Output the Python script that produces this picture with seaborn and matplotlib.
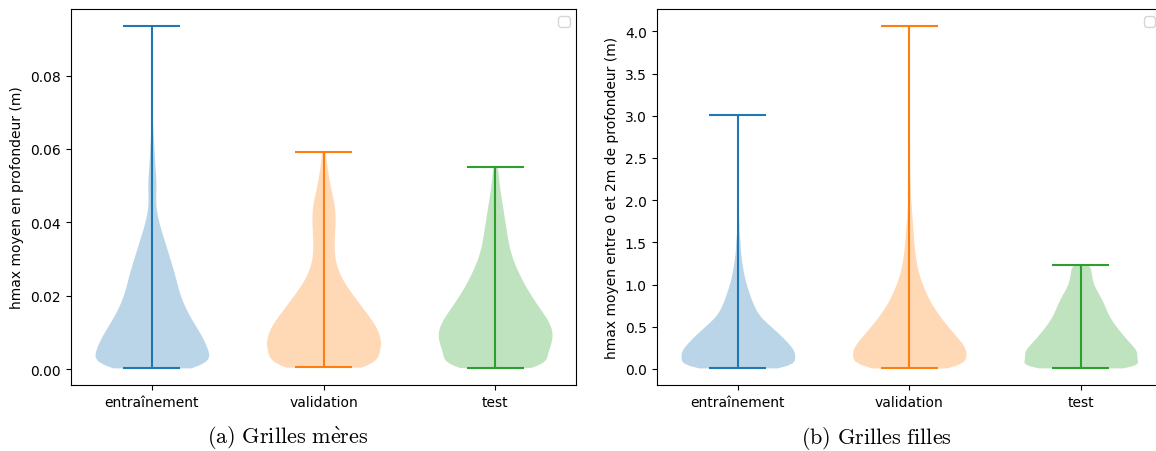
import matplotlib
matplotlib.use("Agg")
import matplotlib.pyplot as plt
import numpy as np
import pandas as pd
import seaborn as sns

plt.rcParams["mathtext.fontset"] = "cm"

splits = ["entraînement", "validation", "test"]
colors = ["#1f77b4", "#ff7f0e", "#2ca02c"]

# ---- Grilles mères : hmax moyen en profondeur (m) -------------------------
# frequency tables: depth level (m) and number of grids at that level
meres_niveaux = [
    0.001, 0.003, 0.005, 0.007, 0.009, 0.011, 0.013, 0.015, 0.017, 0.019,
    0.021, 0.023, 0.025, 0.027, 0.029, 0.031, 0.033, 0.035, 0.037, 0.039,
    0.041, 0.043, 0.045, 0.047, 0.049, 0.051, 0.053, 0.055, 0.057, 0.059,
    0.061, 0.063, 0.065, 0.067,
]
meres_eff_entrainement = [
    70, 48, 50, 48, 44, 40, 36, 32, 29, 26,
    24, 22, 21, 19, 17, 15, 13, 11, 9, 7,
    5, 4, 3, 3, 4, 4, 3, 3, 2, 2,
    2, 1, 1, 1,
]
meres_eff_validation = [
    60, 42, 48, 50, 48, 46, 42, 37, 32, 28,
    23, 18, 15, 12, 10, 9, 9, 9, 9, 10,
    10, 10, 9, 8, 6, 5, 4, 3, 2, 1,
    0, 0, 0, 0,
]
meres_eff_test = [
    57, 40, 46, 48, 50, 49, 46, 42, 37, 33,
    29, 25, 22, 19, 16, 14, 12, 11, 10, 9,
    8, 7, 6, 5, 4, 3, 3, 1, 0, 0,
    0, 0, 0, 0,
]
# extreme grids of each split (min, max)
meres_extremes_entrainement = [0.0003, 0.0935]
meres_extremes_validation = [0.0005, 0.0593]
meres_extremes_test = [0.0004, 0.0550]

# ---- Grilles filles : hmax moyen entre 0 et 2 m de profondeur (m) ---------
filles_niveaux = [
    0.025, 0.075, 0.125, 0.175, 0.225, 0.275, 0.325, 0.375, 0.425, 0.475,
    0.525, 0.575, 0.625, 0.675, 0.725, 0.775, 0.825, 0.875, 0.925, 0.975,
    1.025, 1.075, 1.125, 1.175, 1.225, 1.275, 1.325, 1.375, 1.425, 1.475,
    1.525, 1.575, 1.625, 1.675, 1.725, 1.775, 1.825, 1.875, 1.925, 1.975,
    2.025, 2.075, 2.125, 2.175, 2.275, 2.425, 2.625, 2.875,
]
filles_eff_entrainement = [
    65, 45, 46, 50, 48, 44, 41, 38, 34, 30,
    26, 22, 18, 16, 14, 13, 11, 10, 9, 8,
    6, 6, 5, 4, 4, 3, 3, 2, 2, 2,
    2, 1, 1, 1, 1, 1, 0, 1, 0, 1,
    0, 0, 1, 0, 0, 0, 0, 0,
]
filles_eff_validation = [
    67, 45, 46, 48, 50, 46, 43, 40, 37, 34,
    31, 28, 25, 23, 21, 18, 16, 15, 13, 12,
    10, 9, 8, 7, 6, 6, 5, 5, 4, 4,
    4, 3, 3, 3, 3, 2, 2, 2, 2, 1,
    1, 1, 1, 1, 1, 1, 1, 1,
]
filles_eff_test = [
    67, 46, 47, 50, 48, 45, 41, 38, 35, 32,
    29, 27, 24, 23, 21, 20, 18, 16, 14, 12,
    10, 10, 9, 8, 10, 0, 0, 0, 0, 0,
    0, 0, 0, 0, 0, 0, 0, 0, 0, 0,
    0, 0, 0, 0, 0, 0, 0, 0,
]
filles_extremes_entrainement = [0.012, 3.012]
filles_extremes_validation = [0.012, 4.063]
filles_extremes_test = [0.012, 1.229]

ylabel_meres = "hmax moyen en profondeur (m)"
ylabel_filles = "hmax moyen entre 0 et 2m de profondeur (m)"
caption_meres = r"$\mathrm{(a)\ Grilles\ m\grave{e}res}$"
caption_filles = r"$\mathrm{(b)\ Grilles\ filles}$"

VIOLIN_WIDTH = 0.663


def expand(levels, counts, extremes):
    """Individual grid values from a frequency table plus the two extremes."""
    return np.concatenate([np.repeat(levels, counts), extremes])


def long_frame(groups):
    parts = [pd.DataFrame({"split": name, "value": vals})
             for name, vals in zip(splits, groups)]
    return pd.concat(parts, ignore_index=True)


def draw_panel(ax, groups, ylabel):
    df = long_frame(groups)
    sns.violinplot(
        data=df, x="split", y="value", hue="split", order=splits,
        hue_order=splits, palette=colors, legend=False, cut=0, inner=None,
        density_norm="width", width=VIOLIN_WIDTH, linewidth=0, saturation=1,
        alpha=0.3, bw_adjust=0.6, ax=ax,
    )
    # extrema bars and caps, in the style of matplotlib's violinplot
    for i, (vals, c) in enumerate(zip(groups, colors)):
        lo, hi = vals.min(), vals.max()
        ax.vlines(i, lo, hi, color=c, lw=1.5)
        ax.hlines([lo, hi], i - VIOLIN_WIDTH / 4, i + VIOLIN_WIDTH / 4,
                  color=c, lw=1.5)
    ax.set_xlim(-0.474, 2.474)
    ax.set_xlabel("")
    ax.set_ylabel(ylabel, fontsize=10)
    ax.tick_params(labelsize=10)
    ax.legend(handles=[], loc="upper right")


meres = [
    expand(meres_niveaux, meres_eff_entrainement, meres_extremes_entrainement),
    expand(meres_niveaux, meres_eff_validation, meres_extremes_validation),
    expand(meres_niveaux, meres_eff_test, meres_extremes_test),
]
filles = [
    expand(filles_niveaux, filles_eff_entrainement, filles_extremes_entrainement),
    expand(filles_niveaux, filles_eff_validation, filles_extremes_validation),
    expand(filles_niveaux, filles_eff_test, filles_extremes_test),
]

fig = plt.figure(figsize=(11.56, 4.52), dpi=100)
ax1 = fig.add_axes([0.061, 0.146, 0.4377, 0.8319])
ax2 = fig.add_axes([0.568, 0.146, 0.4372, 0.8319])

draw_panel(ax1, meres, ylabel_meres)
draw_panel(ax2, filles, ylabel_filles)

fig.text(0.249, 0.0175, caption_meres, ha="center", va="baseline", fontsize=16)
fig.text(0.758, 0.0175, caption_filles, ha="center", va="baseline", fontsize=16)

fig.savefig("out.png", dpi=100)
